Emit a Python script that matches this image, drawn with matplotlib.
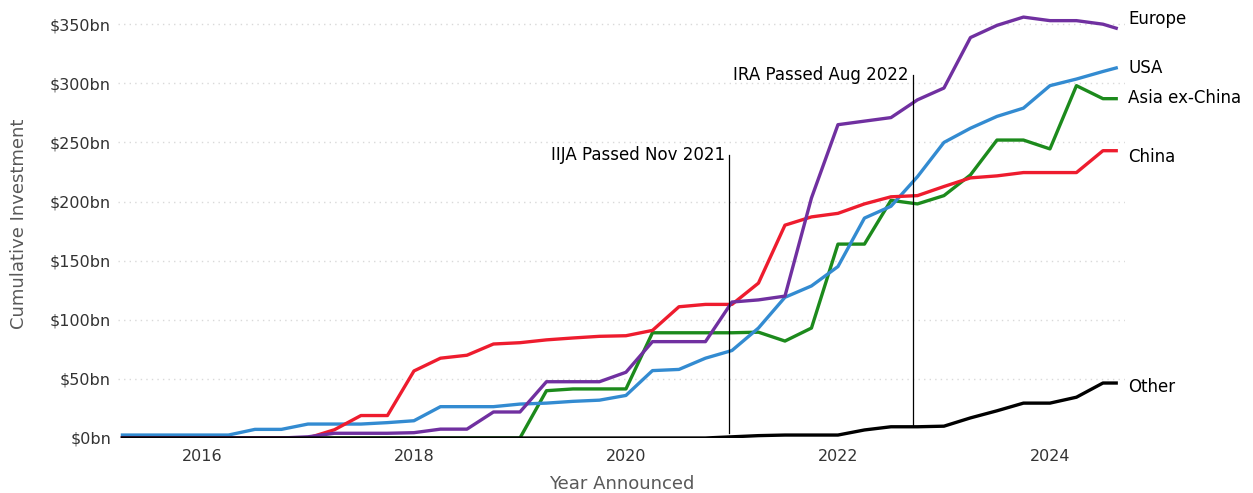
import matplotlib
matplotlib.use("Agg")
import matplotlib.pyplot as plt

# quarterly dates (year fraction), last point partial quarter
dates = [2015.25 + 0.25 * i for i in range(38)] + [2024.625]

europe = [0, 0, 0, 0, 0, 0, 0, 1, 4, 4, 4, 4.5, 7.5, 7.5, 22, 22,
          47.6, 47.6, 47.6, 55.6, 81.5, 81.5, 81.5, 115, 116.8, 120, 203, 265,
          268, 271, 286, 296, 338.7, 349, 356, 353, 353, 350, 346.6]
usa = [2.5, 2.5, 2.5, 2.5, 2.5, 7.3, 7.3, 11.8, 11.8, 11.8, 13, 14.6, 26.5, 26.5, 26.5, 28.7,
       29.5, 31, 32, 36, 57, 58, 67.5, 74, 93, 119, 128.6, 145,
       186, 196, 221, 250, 262, 272, 279, 298, 303.6, 310, 313]
asia = [0, 0, 0, 0, 0, 0, 0, 0, 0, 0, 0, 0, 0, 0, 0, 0,
        40, 41.5, 41.5, 41.5, 89, 89, 89, 89, 89.5, 82, 93, 164,
        164, 201, 198, 205, 222.5, 252, 252, 244.5, 298, 287, 287]
china = [0, 0, 0, 0, 0, 0, 0, 0, 7, 19, 19, 56.7, 67.5, 70, 79.5, 80.6,
         83, 84.6, 86, 86.5, 91, 111, 113, 113, 131, 180, 187, 190,
         198, 204, 205, 212.7, 220, 221.7, 224.5, 224.5, 224.5, 243, 243]
other = [0, 0, 0, 0, 0, 0, 0, 0, 0, 0, 0, 0, 0, 0, 0, 0,
         0, 0, 0, 0, 0, 0, 0, 1, 2, 2.5, 2.5, 2.5,
         6.8, 9.5, 9.5, 10, 17, 23, 29.5, 29.5, 34.5, 46.5, 46.5]

series_names = ["Europe", "USA", "Asia ex-China", "China", "Other"]
label_y = [354.5, 313, 287.6, 237.7, 43]
colors = ["#7030a0", "#338bd1", "#1c8a1c", "#ee1c2e", "#000000"]

yticks = [0, 50, 100, 150, 200, 250, 300, 350]
ytick_labels = ["$0bn", "$50bn", "$100bn", "$150bn", "$200bn", "$250bn", "$300bn", "$350bn"]
xticks = [2016, 2018, 2020, 2022, 2024]

events = ["IIJA Passed Nov 2021", "IRA Passed Aug 2022"]
event_x = [2020.972, 2022.708]
event_bottom = [4, 11]
event_top = [239, 307]

fig = plt.figure(figsize=(12.53, 4.93), dpi=100)
ax = fig.add_axes([118 / 1253, 55 / 493, (1125 - 118) / 1253, 428 / 493])
ax.set_xlim(2015.208, 2024.708)
ax.set_ylim(0, 362)

for s in ax.spines.values():
    s.set_visible(False)

for v in yticks[1:]:
    ax.axhline(v, color="#d9d9d9", lw=1.0, ls=(0, (1, 3)), zorder=0)

data = [europe, usa, asia, china, other]
for k in [2, 1, 3, 0, 4]:
    ax.plot(dates, data[k], color=colors[k], lw=2.4, solid_joinstyle="round",
            zorder=4 if k == 4 else 3)

for name, ly in zip(series_names, label_y):
    ax.text(2024.74, ly, name, fontsize=12, color="black", va="center", ha="left", clip_on=False)

for name, ex, eb, et in zip(events, event_x, event_bottom, event_top):
    ax.plot([ex, ex], [eb, et], color="black", lw=0.9, zorder=5)
    ax.text(ex - 0.04, et, name, fontsize=12, color="black", ha="right", va="center")

ax.set_yticks(yticks)
ax.set_yticklabels(ytick_labels, fontsize=11.5, color="#333333")
ax.set_xticks(xticks)
ax.set_xticklabels([str(x) for x in xticks], fontsize=11.5, color="#333333")
ax.tick_params(axis="y", length=0, pad=5)
ax.tick_params(axis="x", length=0, pad=8)
ax.set_xlabel("Year Announced", fontsize=13, color="#595959", labelpad=8)
ax.set_ylabel("Cumulative Investment", fontsize=13, color="#595959", labelpad=16)

fig.savefig("out.png", dpi=100)
